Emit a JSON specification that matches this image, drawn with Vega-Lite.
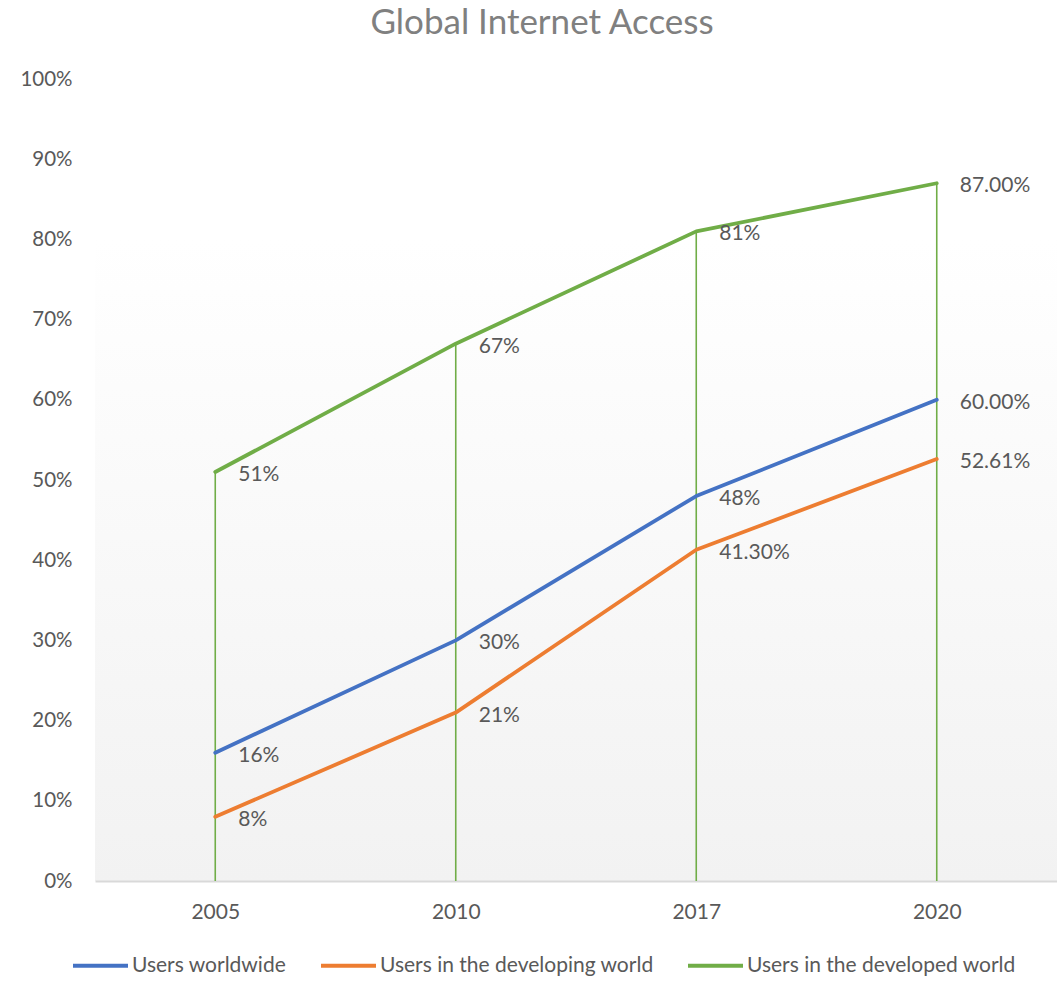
{
  "$schema": "https://vega.github.io/schema/vega-lite/v6.json",
  "width": 962,
  "height": 802,
  "autosize": {"type": "none"},
  "padding": {"left": 95, "top": 79, "right": 0, "bottom": 100},
  "background": "white",
  "title": {
    "text": "Global Internet Access",
    "font": "Lato",
    "fontSize": 35,
    "fontWeight": "normal",
    "color": "#808080",
    "anchor": "middle",
    "dx": -34,
    "offset": 28
  },
  "config": {
    "font": "Lato",
    "view": {
      "stroke": null,
      "fill": {
        "gradient": "linear",
        "x1": 0, "y1": 0, "x2": 0, "y2": 1,
        "stops": [
          {"offset": 0, "color": "#ffffff"},
          {"offset": 0.2, "color": "#ffffff"},
          {"offset": 1, "color": "#f2f2f2"}
        ]
      }
    }
  },
  "data": {
    "values": [
      {"year": "2005", "series": "Users worldwide", "value": 16, "label": "16%"},
      {"year": "2010", "series": "Users worldwide", "value": 30, "label": "30%"},
      {"year": "2017", "series": "Users worldwide", "value": 48, "label": "48%"},
      {"year": "2020", "series": "Users worldwide", "value": 60, "label": "60.00%"},
      {"year": "2005", "series": "Users in the developing world", "value": 8, "label": "8%"},
      {"year": "2010", "series": "Users in the developing world", "value": 21, "label": "21%"},
      {"year": "2017", "series": "Users in the developing world", "value": 41.3, "label": "41.30%"},
      {"year": "2020", "series": "Users in the developing world", "value": 52.61, "label": "52.61%"},
      {"year": "2005", "series": "Users in the developed world", "value": 51, "label": "51%"},
      {"year": "2010", "series": "Users in the developed world", "value": 67, "label": "67%"},
      {"year": "2017", "series": "Users in the developed world", "value": 81, "label": "81%"},
      {"year": "2020", "series": "Users in the developed world", "value": 87, "label": "87.00%"}
    ]
  },
  "encoding": {
    "x": {
      "field": "year",
      "type": "ordinal",
      "scale": {"type": "point", "padding": 0.5},
      "axis": {
        "title": null,
        "labelAngle": 0,
        "labelFontSize": 21,
        "labelColor": "#595959",
        "labelPadding": 20,
        "ticks": false,
        "domainColor": "#d9d9d9",
        "domainWidth": 2,
        "grid": false
      }
    },
    "y": {
      "field": "value",
      "type": "quantitative",
      "scale": {"domain": [0, 100], "nice": false},
      "axis": {
        "title": null,
        "values": [0, 10, 20, 30, 40, 50, 60, 70, 80, 90, 100],
        "labelExpr": "datum.value + '%'",
        "labelFontSize": 20.5,
        "labelColor": "#595959",
        "labelPadding": 23,
        "ticks": false,
        "domain": false,
        "grid": false
      }
    }
  },
  "layer": [
    {
      "transform": [{"filter": "datum.series === 'Users in the developed world'"}],
      "mark": {"type": "rule", "color": "#70AD47", "strokeWidth": 1.6},
      "encoding": {"y2": {"datum": 0}}
    },
    {
      "mark": {"type": "line", "strokeWidth": 3.8, "strokeCap": "round", "strokeJoin": "round"},
      "encoding": {
        "color": {
          "field": "series",
          "type": "nominal",
          "scale": {
            "domain": ["Users worldwide", "Users in the developing world", "Users in the developed world"],
            "range": ["#4472C4", "#ED7D31", "#70AD47"]
          },
          "legend": {
            "title": null,
            "orient": "none",
            "direction": "horizontal",
            "legendX": -24,
            "legendY": 857,
            "symbolType": "stroke",
            "symbolSize": 3025,
            "symbolStrokeWidth": 4,
            "labelFontSize": 21,
            "labelColor": "#595959",
            "labelOffset": 2,
            "columnPadding": 26,
            "labelLimit": 400
          }
        }
      }
    },
    {
      "mark": {"type": "text", "align": "left", "baseline": "middle", "dx": 23, "dy": 3, "fontSize": 21, "color": "#595959"},
      "encoding": {"text": {"field": "label"}}
    }
  ]
}
